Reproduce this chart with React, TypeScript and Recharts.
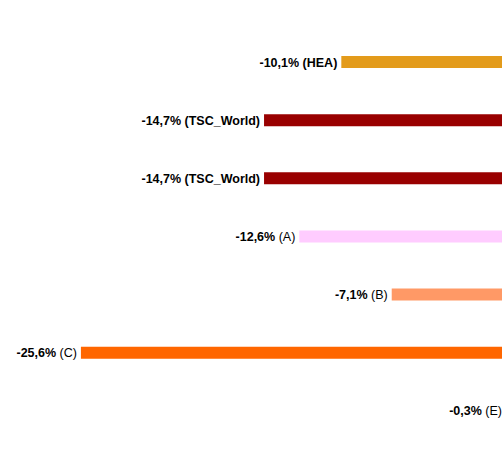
import { BarChart, Bar, XAxis, YAxis, Cell, LabelList } from "recharts";

const names = ["HEA", "TSC_World", "TSC_World", "A", "B", "C", "E"];
const values = [-10.1, -14.7, -14.7, -12.6, -7.1, -25.6, -0.3];
const benchmark = [true, true, true, false, false, false, false];
const colors = ["#E39B1B", "#990000", "#990000", "#FFCCFF", "#FF9966", "#FF6600", "#FF6600"];

const data = names.map((name, i) => ({
  key: `${name}-${i}`,
  name,
  value: values[i],
  bench: benchmark[i],
}));

const fmt = (v: number) => `${v.toFixed(1).replace(".", ",")}%`;

function BarLabel(props: any) {
  const { x, y, width, height, index } = props;
  const row = data[index];
  if (!row) return null;
  const left = Math.min(Number(x), Number(x) + Number(width));
  const cy = Number(y) + Number(height) / 2;
  return (
    <text
      x={left - 4}
      y={cy}
      dy={4.5}
      textAnchor="end"
      fontSize={12.5}
      fontFamily="'Liberation Sans', Arial, sans-serif"
      fill="#000"
    >
      <tspan fontWeight="bold">{fmt(row.value)}</tspan>
      <tspan fontWeight={row.bench ? "bold" : "normal"}>{` (${row.name})`}</tspan>
    </text>
  );
}

export default function App() {
  return (
    <div
      style={{
        position: "fixed",
        left: 0,
        top: 0,
        width: 502,
        height: 468,
        overflow: "hidden",
        background: "#fff",
      }}
    >
      <BarChart
        layout="vertical"
        width={511}
        height={468}
        data={data}
        margin={{ top: 33, right: 0, bottom: 28, left: 7 }}
      >
        <XAxis type="number" domain={[-30, 0]} hide />
        <YAxis type="category" dataKey="key" hide />
        <Bar dataKey="value" barSize={12} isAnimationActive={false}>
          {data.map((d, i) => (
            <Cell key={d.key} fill={colors[i]} />
          ))}
          <LabelList dataKey="value" content={BarLabel} />
        </Bar>
      </BarChart>
    </div>
  );
}
